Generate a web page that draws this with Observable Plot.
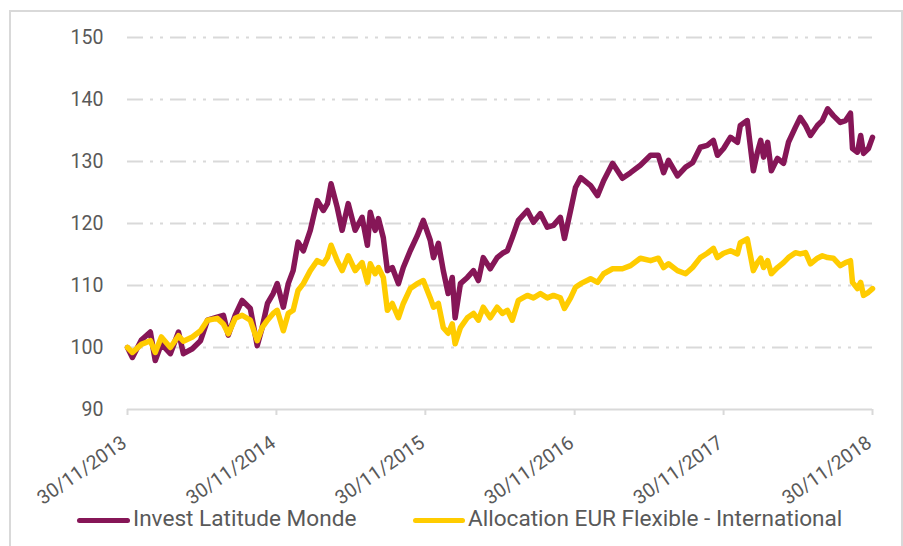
<!DOCTYPE html>
<html><head><meta charset="utf-8">
<script src="https://cdn.jsdelivr.net/npm/d3@7"></script>
<script src="https://cdn.jsdelivr.net/npm/@observablehq/plot@0.6"></script>
<style>
body{margin:0;background:#fff;font-family:Roboto,sans-serif;width:903px;height:546px;overflow:hidden;position:relative;}
#frame{position:absolute;left:9px;top:10px;width:894px;height:560px;border:2px solid #d9d9d9;box-sizing:border-box;}
#chart{position:absolute;left:0;top:0;}
.sw{position:absolute;height:5px;border-radius:3px;}
.lt{position:absolute;font-size:22.6px;color:#595959;line-height:1;white-space:nowrap;}
</style></head>
<body>
<div id="frame"></div>
<div id="chart"></div>
<div id="legend"></div>
<script>
const seriesNames = ["Invest Latitude Monde", "Allocation EUR Flexible - International"];
const seriesColors = ["#861657", "#FFCC00"];
const yTicks = [90, 100, 110, 120, 130, 140, 150];
const xTickDates = ["2013-11-30", "2014-11-30", "2015-11-30", "2016-11-30", "2017-11-30", "2018-11-30"];

const dates = [
"2013-11-30","2013-12-12","2014-01-03","2014-01-25","2014-02-06","2014-02-21","2014-03-15","2014-04-04","2014-04-16","2014-05-08",
"2014-05-28","2014-06-14","2014-07-08","2014-07-23","2014-08-04","2014-08-21","2014-09-07","2014-09-27","2014-10-14","2014-10-26",
"2014-11-08","2014-11-22","2014-12-02","2014-12-17","2014-12-29","2015-01-10","2015-01-22","2015-02-04","2015-02-21","2015-03-10",
"2015-03-25","2015-04-04","2015-04-13","2015-04-28","2015-05-10","2015-05-25","2015-06-11","2015-06-28","2015-07-11","2015-07-18",
"2015-07-30","2015-08-07","2015-08-19","2015-08-29","2015-09-10","2015-09-25","2015-10-07","2015-10-24","2015-11-10","2015-11-25",
"2015-12-12","2015-12-20","2016-01-01","2016-01-13","2016-01-25","2016-02-04","2016-02-11","2016-02-24","2016-03-12","2016-03-27",
"2016-04-08","2016-04-20","2016-05-07","2016-05-24","2016-06-06","2016-06-18","2016-06-30","2016-07-15","2016-08-06","2016-08-21",
"2016-09-07","2016-09-24","2016-10-09","2016-10-26","2016-11-05","2016-11-20","2016-12-02","2016-12-15","2017-01-08","2017-01-25",
"2017-02-09","2017-03-03","2017-03-27","2017-04-16","2017-05-10","2017-06-04","2017-06-23","2017-07-06","2017-07-18","2017-08-09",
"2017-08-29","2017-09-15","2017-10-04","2017-10-21","2017-11-05","2017-11-15","2017-11-30","2017-12-17","2018-01-03","2018-01-10",
"2018-01-27","2018-02-11","2018-02-21","2018-03-01","2018-03-08","2018-03-18","2018-03-27","2018-04-11","2018-04-26","2018-05-08",
"2018-05-25","2018-06-06","2018-06-19","2018-07-01","2018-07-18","2018-07-30","2018-08-12","2018-08-26","2018-09-12","2018-09-25",
"2018-10-07","2018-10-12","2018-10-24","2018-11-01","2018-11-08","2018-11-20","2018-11-30"
];

const investLatitude = [
100,98.4,101.2,102.5,97.9,100.6,99,102.5,99,99.8,
101.1,104.4,104.9,105.2,102,105.2,107.6,106.3,100.3,103.2,
107.1,108.7,110.3,106.5,110.3,112.4,117,115.6,118.9,123.7,
122.1,123.2,126.4,122.6,118.9,123.2,118.9,121,116.5,121.8,
118.9,120.8,117.7,112.4,112.9,110.3,112.9,115.6,118,120.5,
117.3,114.5,116.8,112.4,108.7,111.3,104.8,110.3,111.3,112.4,
110.8,114.5,112.7,114.5,115.2,115.6,117.7,120.5,122.1,120.2,
121.6,119.4,119.7,121,117.6,122.1,125.8,127.4,126.1,124.5,
126.9,129.7,127.3,128.2,129.4,131,131,128.2,130.2,127.7,
129.1,129.8,132.3,132.6,133.4,131,132.1,133.9,133.1,135.8,
136.6,128.5,131.5,133.4,130.7,133.1,128.5,130.5,129.7,133.1,
135.5,137.1,135.8,134.2,135.8,136.6,138.5,137.4,136.3,136.6,
137.8,132.1,131.5,134.2,131.3,132.1,133.9
];

const allocationFlex = [
100,99.2,100.5,101.1,99.2,101.7,100,101.9,101,101.7,
102.7,104.4,104.7,103.8,102.2,104.7,105.2,104.4,101.1,103.2,
104.4,105.5,106,102.7,105.5,106,109.2,110.3,112.4,114,
113.5,114.5,116.5,114,112.4,114.8,112.4,113.7,110.5,113.5,
111.9,112.9,111.3,106,107.1,104.8,107.1,109.5,110.3,110.8,
108,106.5,107.1,103.2,102.3,103.8,100.6,103.2,104.8,105.5,
104.4,106.5,104.8,106.5,105.5,106,104.4,107.6,108.4,108,
108.7,108,108.4,108,106.3,108,109.7,110.3,111.1,110.5,
111.9,112.7,112.7,113.2,114.4,114,114.4,112.9,113.5,112.4,
111.9,112.9,114.5,115.2,116,114.5,115.2,115.6,115.1,116.9,
117.5,112.4,113.7,114.4,112.9,114,111.9,112.9,113.7,114.5,
115.3,115.1,115.3,113.5,114.4,114.8,114.5,114.4,113.2,113.7,
114,110.5,109.5,110.5,108.4,108.9,109.5
];

const parse = d3.utcParse("%Y-%m-%d");
const fmt = d3.utcFormat("%d/%m/%Y");
const rows = dates.map((d, i) => ({date: parse(d), invest: investLatitude[i], alloc: allocationFlex[i]}));
const xTicks = xTickDates.map(parse);

const lineOpts = {x: "date", strokeWidth: 5.5, strokeLinejoin: "round", strokeLinecap: "round"};

const chart = Plot.plot({
  width: 903, height: 505,
  marginLeft: 127, marginRight: 31, marginTop: 37, marginBottom: 96,
  style: {fontFamily: "Roboto, sans-serif", fontSize: "19.5px", color: "#595959", background: "transparent", overflow: "visible"},
  x: {type: "utc", domain: [xTicks[0], xTicks[xTicks.length - 1]]},
  y: {domain: [90, 150]},
  marks: [
    Plot.ruleY(yTicks.filter(v => v > 90), {stroke: "#d9d9d9", strokeWidth: 2, strokeDasharray: "16,7,3,7,3,7"}),
    Plot.ruleY([90], {stroke: "#d9d9d9", strokeWidth: 2}),
    Plot.axisY({ticks: yTicks, tickSize: 0, tickPadding: 24, label: null, fill: "#595959"}),
    Plot.axisX({ticks: xTicks, tickSize: 6, text: null, label: null, stroke: "#d9d9d9", strokeWidth: 2}),
    Plot.axisX({ticks: xTicks, tickFormat: fmt, tickSize: 0, tickPadding: 31, dx: -3, tickRotate: -35, label: null, fill: "#595959"}),
    Plot.line(rows, {...lineOpts, y: "invest", stroke: seriesColors[0]}),
    Plot.line(rows, {...lineOpts, y: "alloc", stroke: seriesColors[1]})
  ]
});
document.getElementById("chart").appendChild(chart);

const legend = document.getElementById("legend");
const legendPos = [{sw: 77, w: 53, tx: 133}, {sw: 413, w: 52, tx: 468}];
seriesNames.forEach((name, i) => {
  const s = document.createElement("div");
  s.className = "sw";
  s.style.left = legendPos[i].sw + "px";
  s.style.width = legendPos[i].w + "px";
  s.style.top = "518px";
  s.style.background = seriesColors[i];
  legend.appendChild(s);
  const t = document.createElement("div");
  t.className = "lt";
  t.style.left = legendPos[i].tx + "px";
  t.style.top = "508px";
  t.textContent = name;
  legend.appendChild(t);
});
</script>
</body></html>
